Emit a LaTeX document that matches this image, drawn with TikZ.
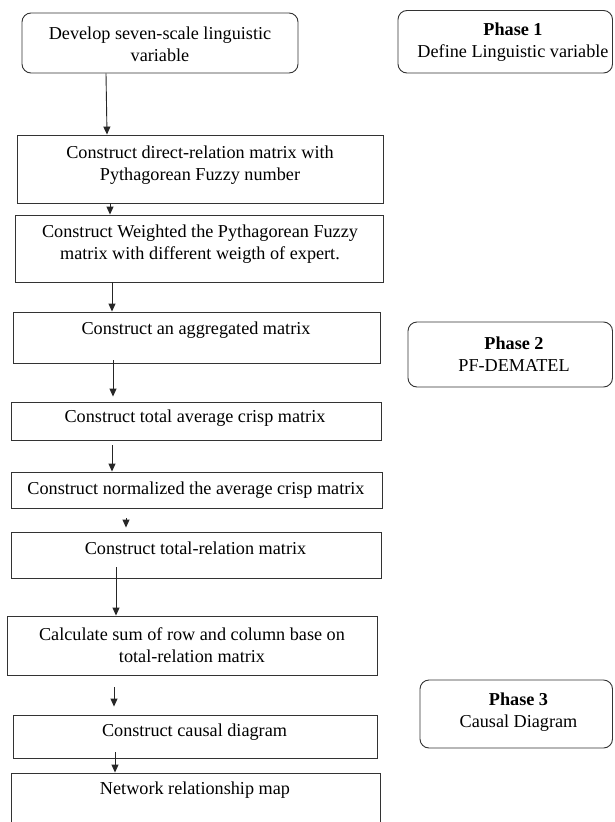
\documentclass[tikz,border=0pt]{standalone}
\usepackage{fontspec}
\setmainfont{Liberation Serif}
\usetikzlibrary{arrows.meta}
\begin{document}
\begin{tikzpicture}[x=1pt,y=-1pt,
 box/.style={draw=black!80,line width=0.9pt,inner sep=0pt,rectangle},
 rbox/.style={box,rounded corners=9pt},
 txt/.style={align=center,font=\fontsize{18.2}{22}\selectfont,inner sep=0pt},
 arr/.style={draw=black!85,line width=0.9pt,-{Triangle[length=8pt,width=7pt]}}]
\useasboundingbox (0,0) rectangle (614,822);
% boxes
\node[rbox,minimum width=276pt,minimum height=60pt] (b1) at (160,43) {};
\node[rbox,minimum width=214.5pt,minimum height=62.5pt] (p1) at (505.25,41.75) {};
\node[box,minimum width=366pt,minimum height=68pt] (b2) at (200,169) {};
\node[box,minimum width=368pt,minimum height=67pt] (b3) at (199,248.5) {};
\node[box,minimum width=367pt,minimum height=51pt] (b4) at (196.5,337.5) {};
\node[rbox,minimum width=204.5pt,minimum height=65pt] (p2) at (510.25,354.5) {};
\node[box,minimum width=370pt,minimum height=38pt] (b5) at (196,421) {};
\node[box,minimum width=371pt,minimum height=36pt] (b6) at (196.5,490) {};
\node[box,minimum width=370pt,minimum height=46pt] (b7) at (196,555) {};
\node[box,minimum width=370pt,minimum height=59pt] (b8) at (192,645.5) {};
\node[rbox,minimum width=192.5pt,minimum height=68pt] (p3) at (516.25,714) {};
\node[box,minimum width=364pt,minimum height=43pt] (b9) at (195,736.5) {};
\node[box,minimum width=369pt,minimum height=70pt] (b10) at (195.5,808) {};
% texts
\node[txt] (t1) at (160,44) {Develop seven-scale linguistic\\variable};
\node[txt] (tp1) at (513,42.5) {\textbf{Phase 1}\\Define Linguistic variable};
\node[txt] (t2) at (200,165) {Construct direct-relation matrix with\\Pythagorean Fuzzy number};
\node[txt] (t3) at (200,244) {Construct Weighted the Pythagorean Fuzzy\\matrix with different weigth of expert.};
\node[txt] (t4) at (196,330) {Construct an aggregated matrix};
\node[txt] (tp2) at (514,354) {\textbf{Phase 2}\\PF-DEMATEL};
\node[txt] (t5) at (195,418) {Construct total average crisp matrix};
\node[txt] (t6) at (196,490) {Construct normalized the average crisp matrix};
\node[txt] (t7) at (195.5,548) {Construct total-relation matrix};
\node[txt] (t8) at (192,645) {Calculate sum of row and column base on\\total-relation matrix};
\node[txt] (tp3) at (518.5,712) {\textbf{Phase 3}\\Causal Diagram};
\node[txt] (t9) at (194.5,732) {Construct causal diagram};
\node[txt] (t10) at (195,790) {Network relationship map};
% arrows
\draw[arr] ([xshift=-54pt]b1.south) -- ([xshift=-93pt]b2.north);
\draw[arr] ([xshift=-90pt]b2.south) -- ([xshift=-89pt]b3.north);
\draw[arr] ([xshift=-87pt]b3.south) -- ([xshift=-84.5pt]b4.north);
\draw[arr] ([xshift=-83.5pt,yshift=3pt]b4.south) -- ([xshift=-83pt,yshift=5pt]b5.north);
\draw[arr] ([xshift=-84pt,yshift=-5pt]b5.south) -- ([xshift=-84.5pt]b6.north);
\draw[arr] ([xshift=-70.5pt,yshift=-10pt]b6.south) -- ([xshift=-70pt,yshift=4pt]b7.north);
\draw[arr] ([xshift=-80pt,yshift=11pt]b7.south) -- ([xshift=-76pt]b8.north);
\draw[arr] ([xshift=-78pt,yshift=-12pt]b8.south) -- ([xshift=-81pt,yshift=8pt]b9.north);
\draw[arr] ([xshift=-80pt,yshift=6pt]b9.south) -- ([xshift=-80.5pt]b10.north);
\end{tikzpicture}
\end{document}
